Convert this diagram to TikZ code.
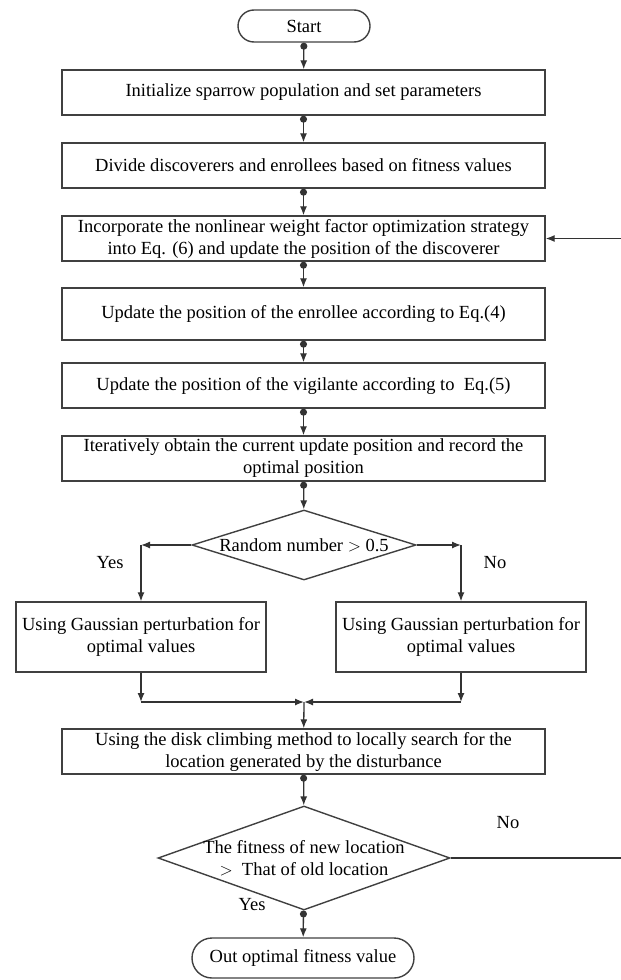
\documentclass[tikz,border=0pt]{standalone}
\usepackage{fontspec}
\setmainfont{Liberation Serif}
\usetikzlibrary{shapes.geometric,arrows.meta}
\begin{document}
\begin{tikzpicture}[
    x=1pt, y=-1pt,
    every node/.style={font=\fontsize{18.5}{22}\selectfont, text=black},
    process/.style={rectangle, draw=black!75, line width=1.4pt, minimum width=483pt, minimum height=45pt, align=center, inner sep=1pt},
    term/.style={rectangle, draw=black!75, line width=1.4pt, rounded corners=16pt, minimum height=32pt, inner sep=1pt},
    decision/.style={diamond, draw=black!75, line width=1.4pt, inner sep=0pt},
    arrow/.style={-{Latex[length=9pt,width=7pt]}, line width=1.3pt, draw=black!80},
    flow/.style={{Circle[length=7pt]}-{Latex[length=9pt,width=7pt]}, line width=1.3pt, draw=black!80},
]
\useasboundingbox (0,0) rectangle (621,980);

% Start and main chain
\node[term, minimum width=132pt] (start) at (304,26) {Start};
\node[process] (init) at (303.5,92.5) {Initialize sparrow population and set parameters};
\node[process] (divide) at (303.5,165.5) {Divide discoverers and enrollees based on fitness values};
\node[process] (incorp) at (303.5,238.5) {Incorporate the nonlinear weight factor optimization strategy\\into Eq. (6) and update the position of the discoverer};
\node[process, minimum height=52pt] (enrol) at (303.5,314) {Update the position of the enrollee according to Eq.(4)};
\node[process] (vigil) at (303.5,385.5) {Update the position of the vigilante according to ~Eq.(5)};
\node[process] (iter) at (303.5,458.5) {Iteratively obtain the current update position and record the\\optimal position};

% First decision
\node[decision, minimum width=224pt, minimum height=70pt, label={center:Random number $>$ 0.5}] (rand) at (304,545) {};
\node (yes1) at (110,563) {Yes};
\node (no1) at (495,563) {No};

% Perturbation boxes
\node[process, minimum width=250pt, minimum height=70pt] (lgauss) at (141,637) {Using Gaussian perturbation for\\optimal values};
\node[process, minimum width=250pt, minimum height=70pt] (rgauss) at (461,637) {Using Gaussian perturbation for\\optimal values};
\coordinate (join) at (304,702);

% Local search
\node[process] (disk) at (303.5,751.5) {Using the disk climbing method to locally search for the\\location generated by the disturbance};

% Second decision
\node[decision, minimum width=292pt, minimum height=104pt,
      label={[align=center]center:The fitness of new location\\$>$ ~That of old location}] (fit) at (304,858) {};
\node (no2) at (508,823) {No};
\node (yes2) at (252,905) {Yes};
\node[term, minimum width=222pt, minimum height=40pt, rounded corners=20pt] (out) at (303,958) {Out optimal fitness value};
\coordinate (loop) at (632,858);

% Arrows
\draw[flow] (start) -- (init);
\draw[flow] (init) -- (divide);
\draw[flow] (divide) -- (incorp);
\draw[flow] (incorp) -- (enrol);
\draw[flow] (enrol) -- (vigil);
\draw[flow] (vigil) -- (iter);
\draw[flow] (iter) -- (rand);
\draw[arrow] (rand.west) -- (lgauss.north |- rand.west);
\draw[arrow] (lgauss.north |- rand.west) -- (lgauss.north);
\draw[arrow] (rand.east) -- (rgauss.north |- rand.east);
\draw[arrow] (rgauss.north |- rand.east) -- (rgauss.north);
\draw[arrow] (lgauss.south) -- (lgauss.south |- join);
\draw[arrow] (lgauss.south |- join) -- (join);
\draw[arrow] (rgauss.south) -- (rgauss.south |- join);
\draw[arrow] (rgauss.south |- join) -- (join);
\draw[arrow] (join) -- (disk);
\draw[flow] (disk) -- (fit);
\draw[flow] (fit) -- (out);

% Feedback loop
\draw[arrow] (fit.east) -- (loop) |- (incorp.east);

\end{tikzpicture}
\end{document}
